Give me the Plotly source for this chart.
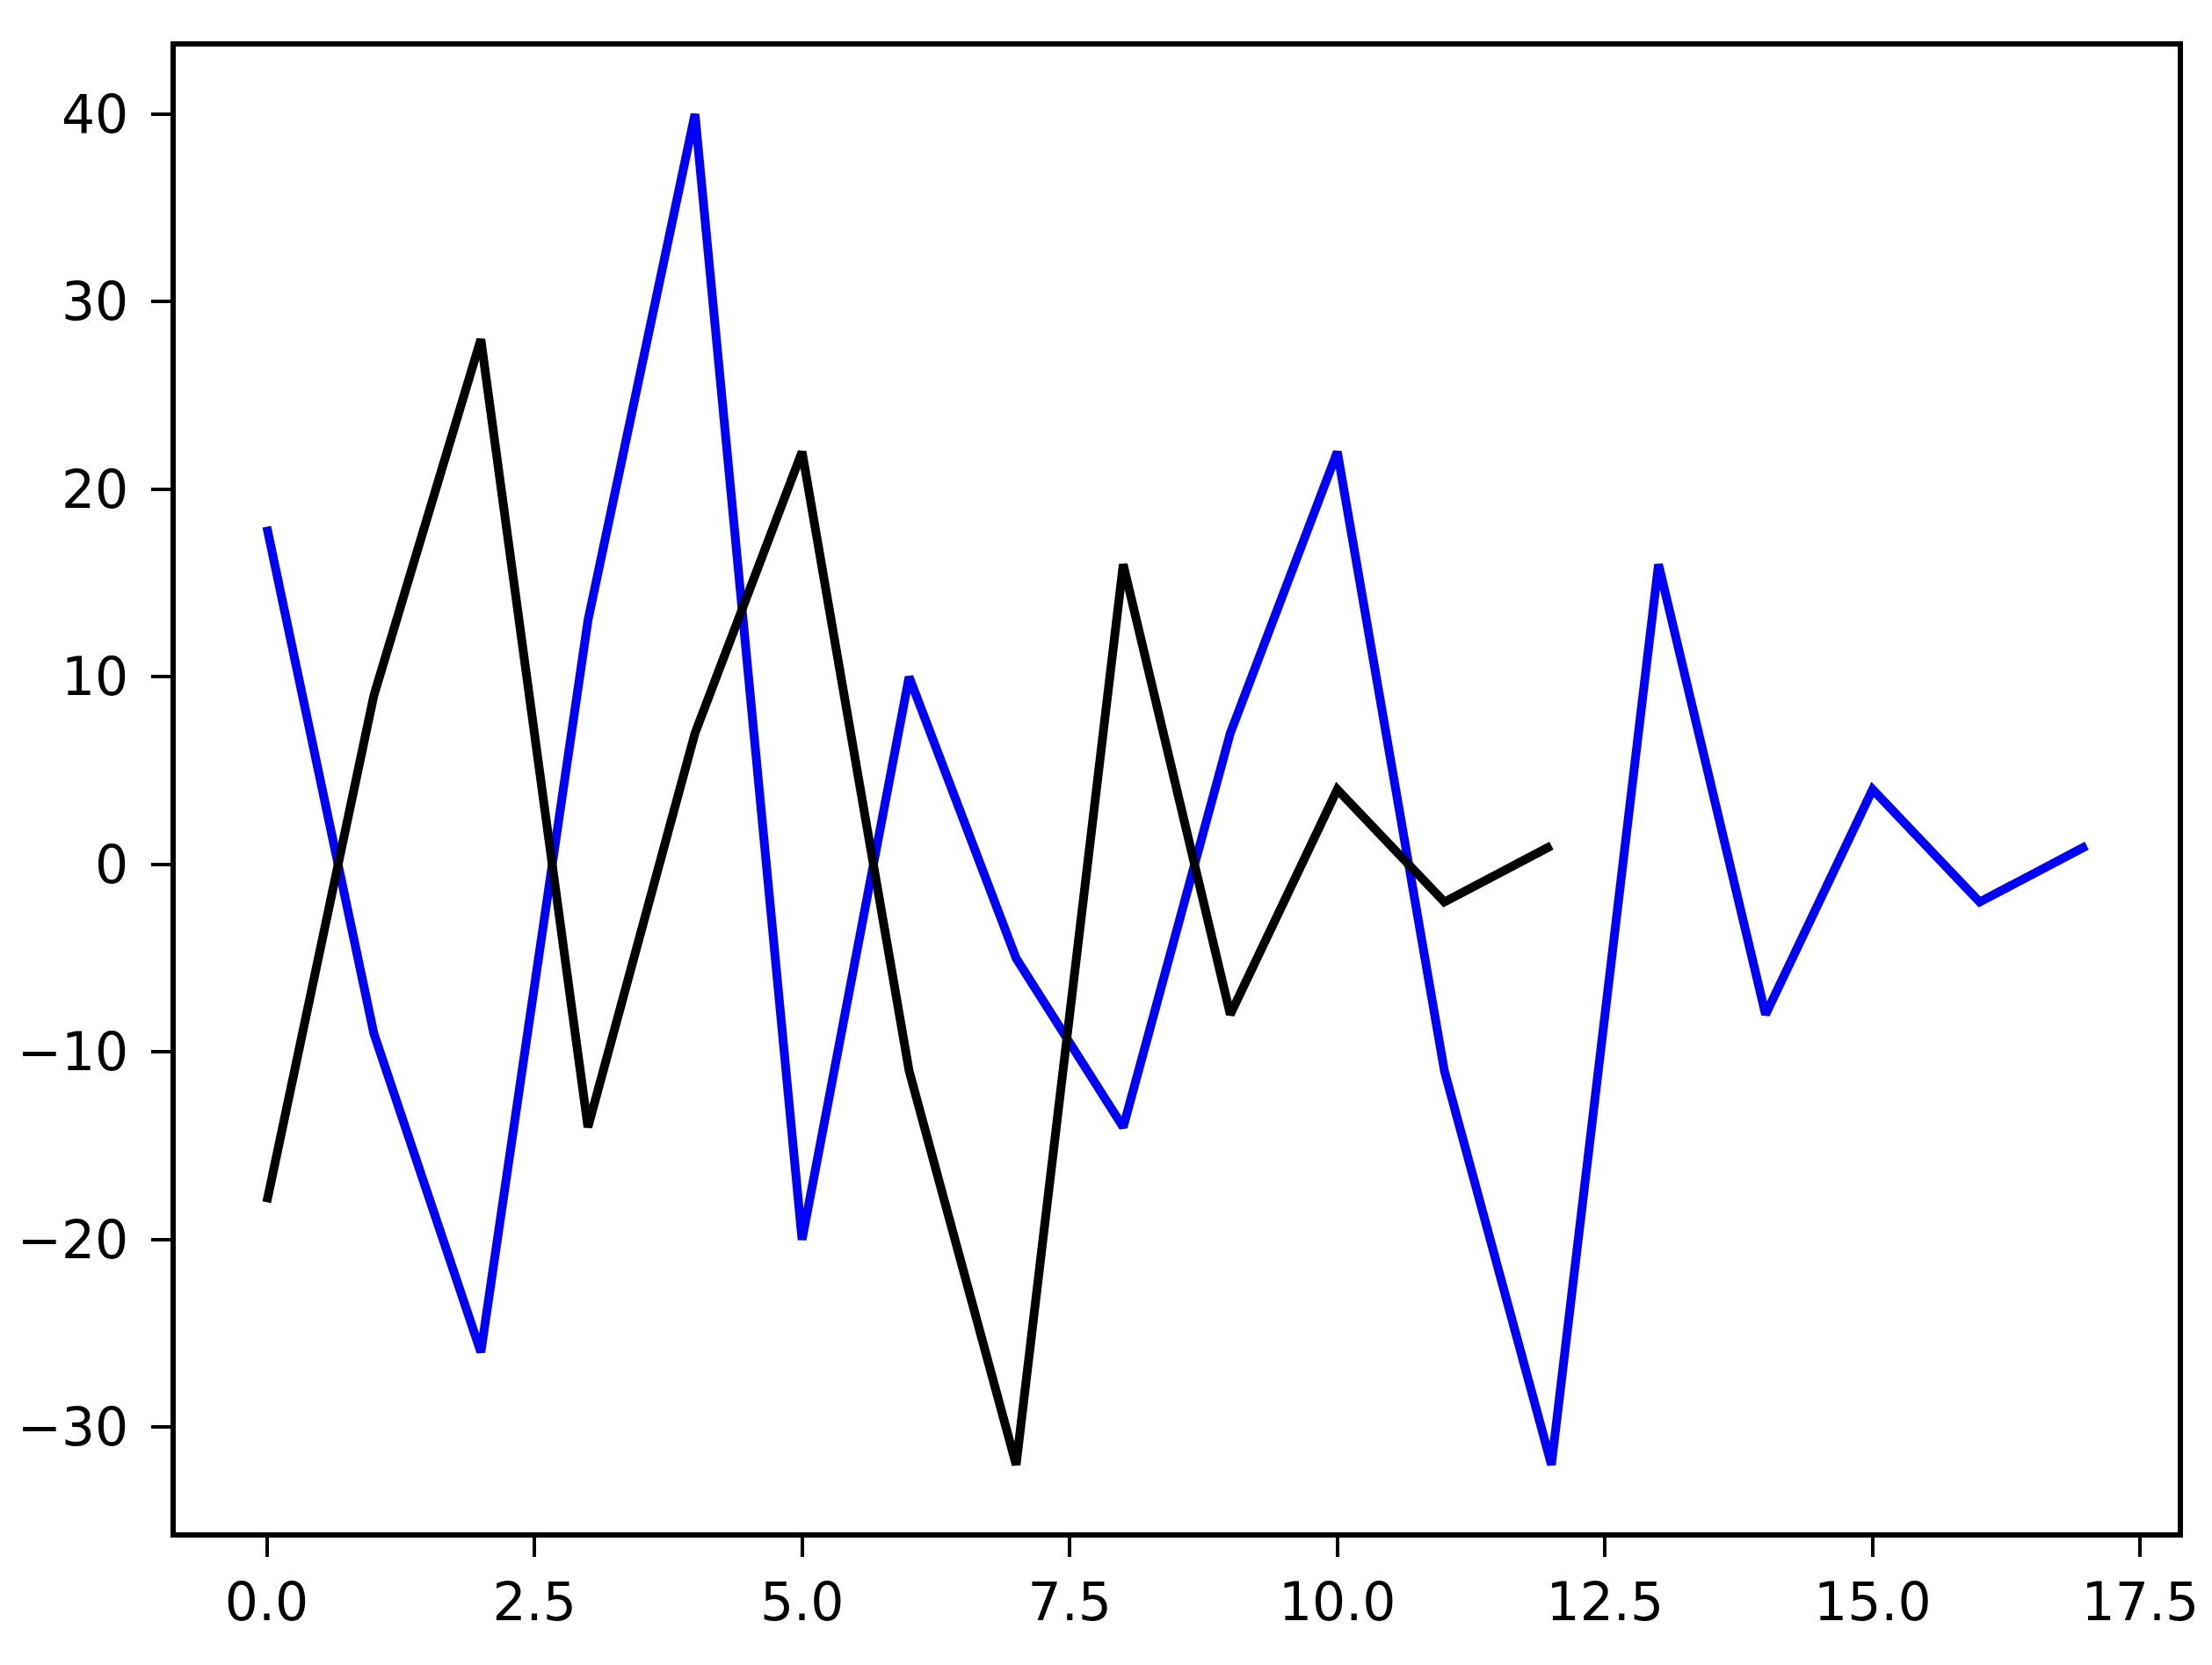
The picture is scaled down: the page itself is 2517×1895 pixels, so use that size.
import plotly.graph_objects as go

# series
x_blue = list(range(18))
y_blue = [18, -9, -26, 13, 40, -20, 10, -5, -14, 7, 22, -11, -32, 16, -8, 4, -2, 1]
x_black = list(range(13))
y_black = [-18, 9, 28, -14, 7, 22, -11, -32, 16, -8, 4, -2, 1]

x_ticks = [0, 2.5, 5, 7.5, 10, 12.5, 15, 17.5]
x_labels = ['0.0', '2.5', '5.0', '7.5', '10.0', '12.5', '15.0', '17.5']
y_ticks = [-30, -20, -10, 0, 10, 20, 30, 40]
y_labels = ['\u221230', '\u221220', '\u221210', '0', '10', '20', '30', '40']

fig = go.Figure()
fig.add_trace(go.Scatter(x=x_blue, y=y_blue, mode='lines',
                         line=dict(color='#0000ff', width=10)))
fig.add_trace(go.Scatter(x=x_black, y=y_black, mode='lines',
                         line=dict(color='#000000', width=10)))

axis_style = dict(showgrid=False, zeroline=False, showline=True, mirror=True,
                  linecolor='black', linewidth=5.5, ticks='outside', ticklen=22,
                  tickwidth=4, tickcolor='black',
                  tickfont=dict(family='DejaVu Sans', size=60, color='black'))

fig.update_xaxes(range=[-0.85, 17.85], tickvals=x_ticks, ticktext=x_labels, **axis_style)
fig.update_yaxes(range=[-35.6, 43.6], tickvals=y_ticks, ticktext=y_labels,
                 ticklabelstandoff=14, **axis_style)

fig.update_layout(width=2517, height=1895, showlegend=False,
                  paper_bgcolor='white', plot_bgcolor='white',
                  margin=dict(l=190, r=47, t=45, b=159))

fig.write_html("out.html")
